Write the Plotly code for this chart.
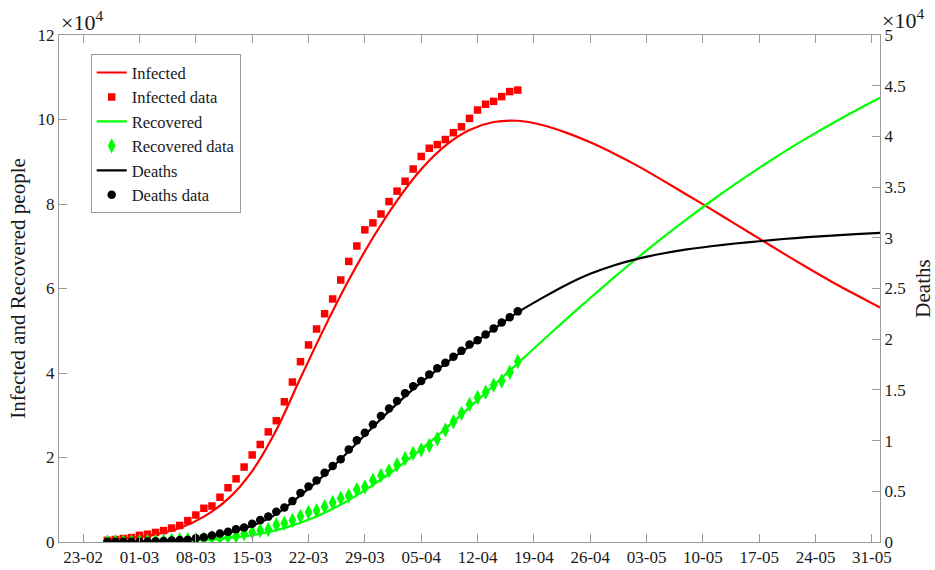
import plotly.graph_objects as go

# ---- observed data (26-02-2020 .. 17-04-2020) ----
data_dates = [
    "2020-02-26", "2020-02-27", "2020-02-28", "2020-02-29", "2020-03-01", "2020-03-02",
    "2020-03-03", "2020-03-04", "2020-03-05", "2020-03-06", "2020-03-07", "2020-03-08",
    "2020-03-09", "2020-03-10", "2020-03-11", "2020-03-12", "2020-03-13", "2020-03-14",
    "2020-03-15", "2020-03-16", "2020-03-17", "2020-03-18", "2020-03-19", "2020-03-20",
    "2020-03-21", "2020-03-22", "2020-03-23", "2020-03-24", "2020-03-25", "2020-03-26",
    "2020-03-27", "2020-03-28", "2020-03-29", "2020-03-30", "2020-03-31", "2020-04-01",
    "2020-04-02", "2020-04-03", "2020-04-04", "2020-04-05", "2020-04-06", "2020-04-07",
    "2020-04-08", "2020-04-09", "2020-04-10", "2020-04-11", "2020-04-12", "2020-04-13",
    "2020-04-14", "2020-04-15", "2020-04-16", "2020-04-17",
]
infected_data = [
    385, 588, 821, 1049, 1577, 1835, 2263, 2706, 3296, 3916, 5061, 6387,
    7985, 8514, 10590, 12839, 14955, 17750, 20603, 23073, 26062, 28710, 33190, 37860,
    42681, 46638, 50418, 54030, 57521, 62013, 66414, 70065, 73880, 75528, 77635, 80572,
    83049, 85388, 88274, 91246, 93187, 94067, 95262, 96877, 98273, 100269, 102253, 103616,
    104291, 105418, 106607, 106962,
]
recovered_data = [
    3, 45, 46, 50, 83, 149, 160, 276, 414, 523, 589, 622,
    724, 1004, 1045, 1258, 1439, 1966, 2335, 2749, 2941, 4025, 4440, 5129,
    6072, 7024, 7432, 8326, 9362, 10361, 10950, 12384, 13030, 14620, 15729, 16847,
    18278, 19758, 20996, 21815, 22837, 24392, 26491, 28470, 30455, 32534, 34211, 35435,
    37130, 38092, 40164, 42727,
]
deaths_data = [
    12, 17, 21, 29, 34, 52, 79, 107, 148, 197, 233, 366,
    463, 631, 827, 1016, 1266, 1441, 1809, 2158, 2503, 2978, 3405, 4032,
    4825, 5476, 6077, 6820, 7503, 8165, 9134, 10023, 10779, 11591, 12428, 13155,
    13915, 14681, 15362, 15887, 16523, 17127, 17669, 18279, 18849, 19468, 19899, 20465,
    21067, 21645, 22170, 22745,
]

# ---- model curves (every 3 days) ----
model_dates = [
    "2020-02-26", "2020-02-29", "2020-03-03", "2020-03-06", "2020-03-09", "2020-03-12",
    "2020-03-15", "2020-03-18", "2020-03-21", "2020-03-24", "2020-03-27", "2020-03-30",
    "2020-04-02", "2020-04-05", "2020-04-08", "2020-04-11", "2020-04-14", "2020-04-17",
    "2020-04-20", "2020-04-23", "2020-04-26", "2020-04-29", "2020-05-02", "2020-05-05",
    "2020-05-08", "2020-05-11", "2020-05-14", "2020-05-17", "2020-05-20", "2020-05-23",
    "2020-05-26", "2020-05-29", "2020-06-01",
]
infected_model = [
    600, 1000, 1800, 3300, 6000, 10200, 16800, 26500, 38800, 50800, 62000, 72000,
    80800, 88200, 93800, 97500, 99400, 99700, 98700, 96900, 94600, 91900, 88900, 85600,
    82200, 78800, 75300, 71800, 68300, 64900, 61600, 58500, 55500,
]
recovered_model = [
    0, 40, 120, 250, 500, 930, 1640, 2790, 4550, 6940, 9920, 13460,
    17500, 21970, 26790, 31850, 37040, 42290, 47530, 52700, 57760, 62680, 67450, 72030,
    76430, 80650, 84690, 88550, 92230, 95710, 99000, 102130, 105130,
]
deaths_model = [
    20, 40, 90, 200, 420, 900, 1600, 2750, 4600, 6650, 8950, 11350,
    13650, 15750, 17600, 19300, 21000, 22650, 24050, 25350, 26450, 27300, 27950, 28450,
    28850, 29170, 29440, 29660, 29880, 30060, 30220, 30360, 30480,
]

left_ticks = [0, 20000, 40000, 60000, 80000, 100000, 120000]
left_labels = ["0", "2", "4", "6", "8", "10", "12"]
right_ticks = [0, 5000, 10000, 15000, 20000, 25000, 30000, 35000, 40000, 45000, 50000]
right_labels = ["0", "0.5", "1", "1.5", "2", "2.5", "3", "3.5", "4", "4.5", "5"]

FONT = "Liberation Serif"
TXT = "#1a1a1a"
AX = "#9a9a9a"
RED = "#ff0000"
GREEN = "#00ff00"
BLACK = "#000000"

fig = go.Figure()
fig.add_trace(go.Scatter(x=model_dates, y=infected_model, mode="lines", name="Infected",
                         line=dict(color=RED, width=2.2, shape="spline", smoothing=0.8)))
fig.add_trace(go.Scatter(x=data_dates, y=infected_data, mode="markers", name="Infected data",
                         marker=dict(color=RED, symbol="square", size=7.5)))
fig.add_trace(go.Scatter(x=model_dates, y=recovered_model, mode="lines", name="Recovered",
                         line=dict(color=GREEN, width=2.2, shape="spline", smoothing=0.8)))
fig.add_trace(go.Scatter(x=data_dates, y=recovered_data, mode="markers", name="Recovered data",
                         marker=dict(color=GREEN, symbol="diamond-tall", size=11)))
fig.add_trace(go.Scatter(x=model_dates, y=deaths_model, mode="lines", name="Deaths",
                         line=dict(color=BLACK, width=2.2, shape="spline", smoothing=0.8),
                         yaxis="y2"))
fig.add_trace(go.Scatter(x=data_dates, y=deaths_data, mode="markers", name="Deaths data",
                         marker=dict(color=BLACK, symbol="circle", size=8.5), yaxis="y2"))

fig.update_layout(
    width=935, height=570,
    margin=dict(l=59, r=55, t=35, b=28),
    paper_bgcolor="white", plot_bgcolor="white",
    font=dict(family=FONT, size=17, color=TXT),
    showlegend=True,
    legend=dict(x=0.0386, y=0.962, xanchor="left", yanchor="top",
                bgcolor="white", bordercolor=AX, borderwidth=1,
                font=dict(family=FONT, size=16.5, color=TXT),
                tracegroupgap=0, itemwidth=30),
    xaxis=dict(type="date", range=["2020-02-20", "2020-06-01"], automargin=False,
               tick0="2020-02-23", dtick=7 * 86400000, tickformat="%d-%m",
               ticks="inside", ticklen=8, tickcolor=AX, tickwidth=1,
               showline=True, linecolor=AX, linewidth=1, mirror="ticks",
               showgrid=False, zeroline=False,
               tickfont=dict(family=FONT, size=17, color=TXT)),
    yaxis=dict(range=[0, 120000], tickmode="array", tickvals=left_ticks, ticktext=left_labels,
               automargin=False,
               ticks="inside", ticklen=8, tickcolor=AX, tickwidth=1,
               showline=True, linecolor=AX, linewidth=1,
               showgrid=False, zeroline=False,
               tickfont=dict(family=FONT, size=17, color=TXT),
               title=dict(text="Infected and Recovered people", standoff=6,
                          font=dict(family=FONT, size=21, color=TXT))),
    yaxis2=dict(overlaying="y", side="right", range=[0, 50000], tickmode="array",
                tickvals=right_ticks, ticktext=right_labels, automargin=False,
                ticks="inside", ticklen=8, tickcolor=AX, tickwidth=1,
                showline=True, linecolor=AX, linewidth=1,
                showgrid=False, zeroline=False,
                tickfont=dict(family=FONT, size=17, color=TXT),
                title=dict(text="Deaths", standoff=14,
                           font=dict(family=FONT, size=21, color=TXT))),
    annotations=[
        dict(text="×10<sup>4</sup>", xref="paper", yref="paper", x=0.0, y=1.0,
             xanchor="left", yanchor="bottom", showarrow=False, yshift=-2,
             font=dict(family=FONT, size=22, color=TXT)),
        dict(text="×10<sup>4</sup>", xref="paper", yref="paper", x=1.0, y=1.0,
             xanchor="left", yanchor="bottom", showarrow=False, yshift=0,
             font=dict(family=FONT, size=22, color=TXT)),
    ],
)

fig.write_html(
    "out.html",
    config={"displayModeBar": False},
    post_script="document.body.style.margin='0';document.body.style.overflow='hidden';",
)
